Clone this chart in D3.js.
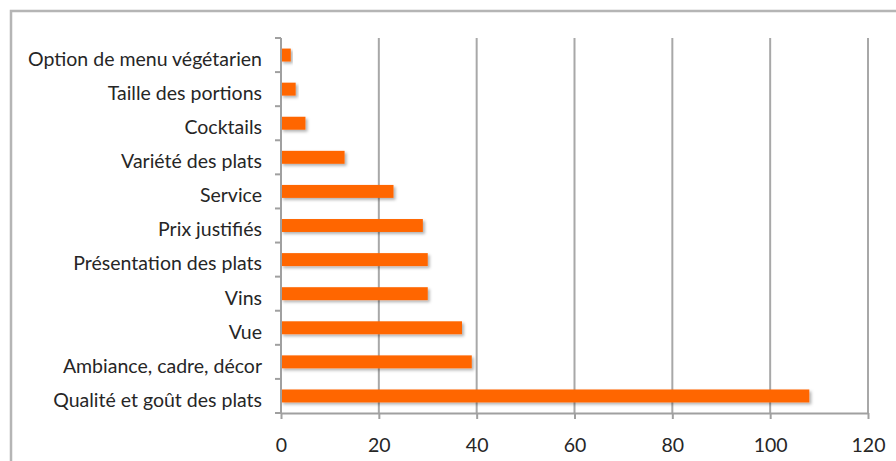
<!DOCTYPE html>
<html><head><meta charset="utf-8">
<script src="https://cdn.jsdelivr.net/npm/d3@7"></script>
<style>body{margin:0;background:#fff}svg{display:block}</style>
</head><body>
<svg id="c" width="896" height="461"></svg>
<script>
const categories = ["Qualité et goût des plats","Ambiance, cadre, décor","Vue","Vins","Présentation des plats","Prix justifiés","Service","Variété des plats","Cocktails","Taille des portions","Option de menu végétarien"];
const values = [108,39,37,30,30,29,23,13,5,3,2];
const xTicks = [0,20,40,60,80,100,120];

const svg = d3.select("#c");
const margin = {left:281, right:28, top:38, bottom:48};
const W = 896, H = 461;
const FONT = "Lato, 'Open Sans', sans-serif";
const x = d3.scaleLinear().domain([0,120]).range([margin.left, W - margin.right]);
const y = d3.scaleBand().domain(categories.slice().reverse()).range([margin.top, H - margin.bottom]).paddingInner(0.62).paddingOuter(0.31);

const defs = svg.append("defs");
const f = defs.append("filter").attr("id","sh").attr("x","-10%").attr("y","-50%").attr("width","130%").attr("height","250%");
f.append("feDropShadow").attr("dx",2).attr("dy",2).attr("stdDeviation",1.5).attr("flood-color","#000").attr("flood-opacity",0.3);

// frame
svg.append("path").attr("d",`M11,${H+5}V11H${W+5}`).attr("fill","none").attr("stroke","#b5b5b5").attr("stroke-width",2.5);

// gridlines
svg.append("g").selectAll("line").data(xTicks.filter(d=>d>0)).join("line")
  .attr("x1",d=>x(d)).attr("x2",d=>x(d)).attr("y1",margin.top).attr("y2",H-margin.bottom)
  .attr("stroke","#a8a8a8").attr("stroke-width",2);

// bars
svg.append("g").selectAll("rect").data(categories).join("rect")
  .attr("x",x(0)).attr("y",d=>y(d))
  .attr("width",(d,i)=>x(values[i])-x(0)).attr("height",y.bandwidth())
  .attr("fill","#ff6600").attr("filter","url(#sh)");

// left axis (category boundaries)
const yB = d3.scaleLinear().domain([0,categories.length]).range([margin.top, H-margin.bottom]);
const gl = svg.append("g");
gl.append("line").attr("x1",x(0)).attr("x2",x(0)).attr("y1",margin.top).attr("y2",H-margin.bottom).attr("stroke","#a0a0a0").attr("stroke-width",2);
gl.selectAll("line.t").data(d3.range(categories.length+1)).join("line").attr("class","t")
  .attr("x1",x(0)-6).attr("x2",x(0)).attr("y1",d=>yB(d)).attr("y2",d=>yB(d)).attr("stroke","#a0a0a0").attr("stroke-width",2);
gl.selectAll("text").data(categories).join("text")
  .attr("x",x(0)-19).attr("y",d=>y(d)+y.bandwidth()/2+4).attr("dy","0.35em")
  .attr("text-anchor","end").attr("font-family",FONT).attr("font-size",19.5).attr("fill","#262626")
  .text(d=>d);

// bottom axis
const xa = svg.append("g").attr("transform",`translate(0,${H-margin.bottom})`)
  .call(d3.axisBottom(x).tickValues(xTicks).tickSize(6).tickPadding(19).tickSizeOuter(0));
xa.select(".domain").attr("stroke","#a0a0a0").attr("stroke-width",2);
xa.selectAll(".tick line").attr("stroke","#a0a0a0").attr("stroke-width",2);
xa.selectAll("text").attr("font-family",FONT).attr("font-size",19.5).attr("fill","#262626");
</script>
</body></html>
